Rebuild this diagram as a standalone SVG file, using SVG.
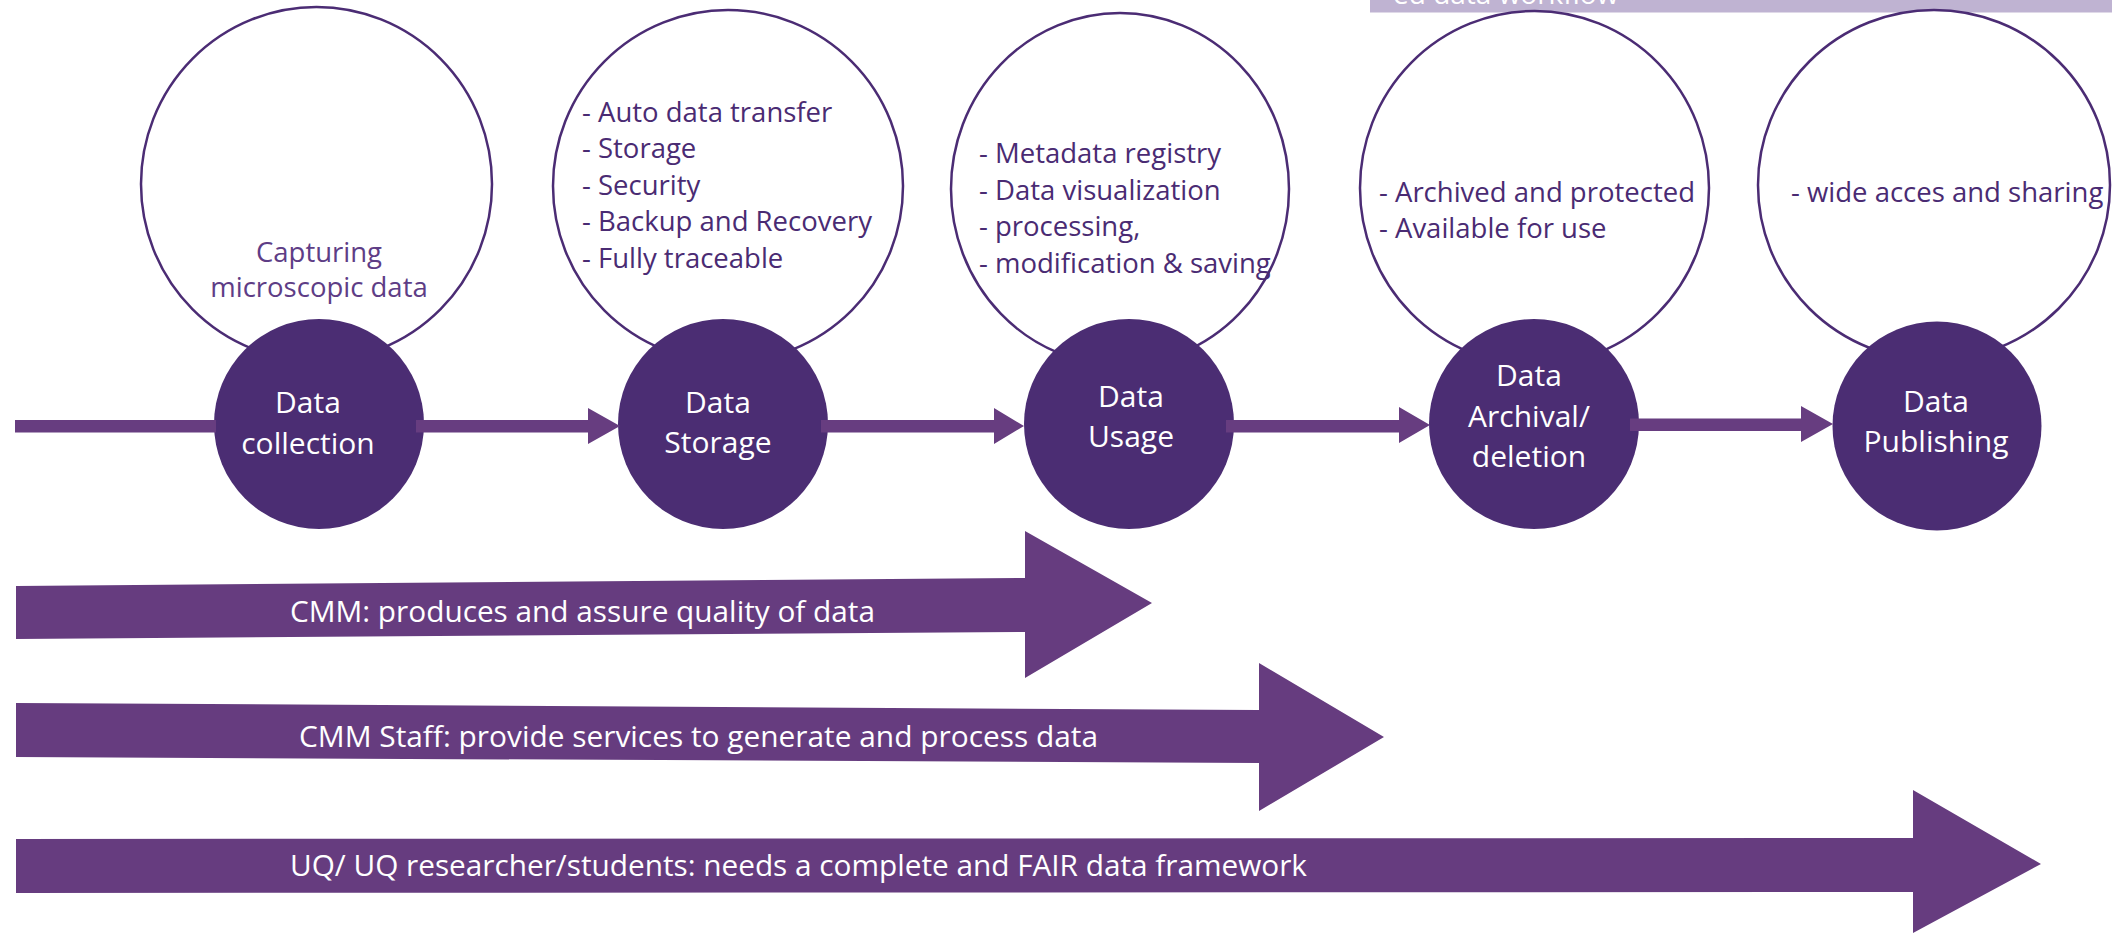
<svg xmlns="http://www.w3.org/2000/svg" width="2112" height="934" viewBox="0 0 2112 934">
<style>
.bubble{fill:#ffffff;stroke:#4b2c74;stroke-width:2.5}
.stage{fill:#4b2d73}
.conn{fill:#673d80}
.band{fill:#663c7f}
.lst{font-family:"Open Sans","Noto Sans",sans-serif;font-size:27.5px;fill:#4a2b73}
.cap{font-family:"Open Sans","Noto Sans",sans-serif;font-size:27.5px;fill:#5e3d86;text-anchor:middle}
.lbl{font-family:"Open Sans","Noto Sans",sans-serif;font-size:30px;fill:#ffffff;text-anchor:middle}
.btxt{font-family:"Open Sans","Noto Sans",sans-serif;font-size:30px;fill:#ffffff}
</style>
<rect width="2112" height="934" fill="#ffffff"/>

<g id="header-bar">
<rect x="1370" y="0" width="742" height="12.5" fill="#bfb3d2"/>
<text x="1393" y="4" font-family="Open Sans, sans-serif" font-size="28px" fill="#ffffff">ed data workflow</text>
</g>

<g id="node-collection">
<ellipse class="bubble" cx="316.5" cy="184" rx="175.5" ry="177"/>
<text class="cap" x="319" y="262">Capturing</text>
<text class="cap" x="319" y="297">microscopic data</text>
<circle class="stage" cx="319" cy="424" r="105"/>
<text class="lbl" x="308" y="413">Data</text>
<text class="lbl" x="308" y="454">collection</text>
</g>

<g id="node-storage">
<ellipse class="bubble" cx="728" cy="186" rx="175" ry="176"/>
<text class="lst" x="582" y="122">- Auto data transfer</text>
<text class="lst" x="582" y="158">- Storage</text>
<text class="lst" x="582" y="194.5">- Security</text>
<text class="lst" x="582" y="231">- Backup and Recovery</text>
<text class="lst" x="582" y="268">- Fully traceable</text>
<circle class="stage" cx="723" cy="424" r="105"/>
<text class="lbl" x="718" y="413">Data</text>
<text class="lbl" x="718" y="453">Storage</text>
</g>

<g id="node-usage">
<ellipse class="bubble" cx="1120" cy="189" rx="169" ry="176"/>
<text class="lst" x="979" y="163">- Metadata registry</text>
<text class="lst" x="979" y="199.5">- Data visualization</text>
<text class="lst" x="979" y="236">- processing,</text>
<text class="lst" x="979" y="272.5">- modification &amp; saving</text>
<circle class="stage" cx="1129" cy="424" r="105"/>
<text class="lbl" x="1131" y="407">Data</text>
<text class="lbl" x="1131" y="447">Usage</text>
</g>

<g id="node-archival">
<ellipse class="bubble" cx="1534.5" cy="188" rx="174.5" ry="177"/>
<text class="lst" x="1379" y="202">- Archived and protected</text>
<text class="lst" x="1379" y="238">- Available for use</text>
<circle class="stage" cx="1534" cy="424" r="105"/>
<text class="lbl" x="1529" y="386">Data</text>
<text class="lbl" x="1529" y="427">Archival/</text>
<text class="lbl" x="1529" y="467">deletion</text>
</g>

<g id="node-publishing">
<ellipse class="bubble" cx="1934" cy="185" rx="176" ry="175"/>
<text class="lst" x="1791" y="202">- wide acces and sharing</text>
<circle class="stage" cx="1937" cy="426" r="104.5"/>
<text class="lbl" x="1936" y="412">Data</text>
<text class="lbl" x="1936" y="452">Publishing</text>
</g>

<g id="connectors">
<rect class="conn" x="15" y="420" width="201" height="12.5"/>
<polygon class="conn" points="416,420 588,420 588,408 620,426 588,444 588,432.5 416,432.5"/>
<polygon class="conn" points="821,420 994,420 994,408 1024,426 994,444 994,432.5 821,432.5"/>
<polygon class="conn" points="1226,420 1399,420 1399,407 1430,425 1399,443 1399,432.5 1226,432.5"/>
<polygon class="conn" points="1630,418.5 1801,418.5 1801,406 1833,424 1801,442 1801,431 1630,431"/>
</g>

<g id="role-cmm">
<polygon class="band" points="16,586 1025,578 1025,531 1152,603 1025,678 1025,632 16,639"/>
<text class="btxt" x="290" y="622" textLength="585" lengthAdjust="spacingAndGlyphs">CMM: produces and assure quality of data</text>
</g>

<g id="role-staff">
<polygon class="band" points="16,703 1259,710 1259,663 1384,737 1259,811 1259,763 16,757"/>
<text class="btxt" x="299" y="747" textLength="799" lengthAdjust="spacingAndGlyphs">CMM Staff: provide services to generate and process data</text>
</g>

<g id="role-uq">
<polygon class="band" points="16,839 1913,838 1913,790 2041,864 1913,933 1913,892 16,893"/>
<text class="btxt" x="290" y="876" textLength="1017" lengthAdjust="spacingAndGlyphs">UQ/ UQ researcher/students: needs a complete and FAIR data framework</text>
</g>
</svg>
